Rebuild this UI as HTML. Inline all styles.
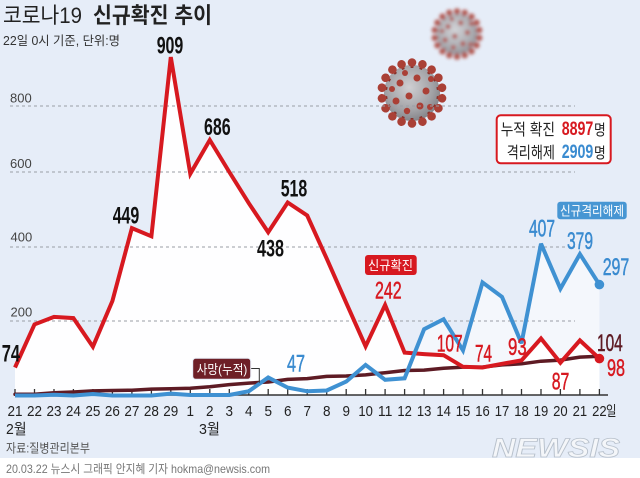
<!DOCTYPE html>
<html><head><meta charset="utf-8"><style>
html,body{margin:0;padding:0;background:#fff;}
svg{display:block;}
text{font-family:"Liberation Sans","Noto Sans CJK KR",sans-serif;}
</style></head><body>
<svg width="640" height="478" viewBox="0 0 640 478" xmlns="http://www.w3.org/2000/svg">
<defs>
<radialGradient id="vg" cx="45%" cy="40%" r="60%">
<stop offset="0" stop-color="#cfcfd2"/><stop offset="0.7" stop-color="#a2a2a6"/><stop offset="1" stop-color="#85858a"/>
</radialGradient>
<filter id="bl" x="-30%" y="-30%" width="160%" height="160%"><feGaussianBlur stdDeviation="2.2"/></filter>
<g id="sp"><rect x="-1.4" y="-31" width="2.8" height="6" fill="#86302a"/><circle cy="-30.5" r="4.3" fill="#aa4036"/></g>
<g id="virus">
<circle r="28" fill="url(#vg)"/>
<use href="#sp"/><use href="#sp" transform="rotate(20)"/><use href="#sp" transform="rotate(40)"/><use href="#sp" transform="rotate(60)"/><use href="#sp" transform="rotate(80)"/><use href="#sp" transform="rotate(100)"/><use href="#sp" transform="rotate(120)"/><use href="#sp" transform="rotate(140)"/><use href="#sp" transform="rotate(160)"/><use href="#sp" transform="rotate(180)"/><use href="#sp" transform="rotate(200)"/><use href="#sp" transform="rotate(220)"/><use href="#sp" transform="rotate(240)"/><use href="#sp" transform="rotate(260)"/><use href="#sp" transform="rotate(280)"/><use href="#sp" transform="rotate(300)"/><use href="#sp" transform="rotate(320)"/><use href="#sp" transform="rotate(340)"/>
<circle cx="-12" cy="-10" r="3.5" fill="#aa4036"/><circle cx="5" cy="-15" r="3.5" fill="#aa4036"/><circle cx="14" cy="-2" r="3.5" fill="#aa4036"/><circle cx="-3" cy="3" r="3.5" fill="#aa4036"/><circle cx="-16" cy="8" r="3.5" fill="#aa4036"/><circle cx="8" cy="13" r="3.5" fill="#aa4036"/><circle cx="-5" cy="18" r="3.2" fill="#aa4036"/><circle cx="18" cy="14" r="3" fill="#aa4036"/><circle cx="-20" cy="-4" r="3" fill="#aa4036"/><circle cx="19" cy="-14" r="3" fill="#aa4036"/>
<circle cx="-7" cy="-20" r="3" fill="#aa4036"/>
</g>
</defs>

<rect x="0" y="0" width="640" height="458" fill="#e6edf8"/>
<rect x="0" y="458" width="640" height="20" fill="#ffffff"/>

<g transform="translate(457,34) scale(0.74)" filter="url(#bl)" opacity="0.85"><use href="#virus"/></g>
<g transform="translate(412,93)"><use href="#virus"/></g>

<text x="3" y="23" font-size="22" fill="#222" textLength="79" lengthAdjust="spacingAndGlyphs">코로나19</text>
<text x="93" y="23" font-size="22" font-weight="bold" fill="#222" textLength="119" lengthAdjust="spacingAndGlyphs">신규확진 추이</text>
<text x="3" y="45" font-size="12.5" fill="#333" textLength="117" lengthAdjust="spacingAndGlyphs">22일 0시 기준, 단위:명</text>

<polygon fill="#ffffff" fill-opacity="0.55" points="15,395 15,395 34.5,395 54,394.3 73.4,395 92.9,393.5 112.4,395 131.9,395 151.4,395 170.8,393.1 190.3,394.6 209.8,394.6 229.3,394.6 248.8,390.9 268.2,377.5 287.7,387.6 307.2,391.3 326.7,390.5 346.2,381.6 365.6,364.9 385.1,379.8 404.6,378.3 424.1,329.2 443.6,319.2 463,350.4 482.5,282.4 502,296.9 521.5,343.3 541,243.7 560.4,288.7 579.9,254.1 599.4,284.6 599.4,395"/>
<polygon fill="#ffffff" fill-opacity="0.93" points="15,395 15,367.5 34.5,324.4 54,316.9 73.4,318.1 92.9,346.7 112.4,301 131.9,228.1 151.4,236.3 170.8,57.1 190.3,173.8 209.8,140 229.3,172 248.8,203.2 268.2,232.2 287.7,202.5 307.2,215.5 326.7,258.6 346.2,302.8 365.6,346.3 385.1,305 404.6,352.6 424.1,354.1 443.6,355.2 463,366.8 482.5,367.5 502,363.8 521.5,360.4 541,338.5 560.4,362.7 579.9,340.4 599.4,358.6 599.4,395"/>

<g stroke="#9a9ea6" stroke-width="1" stroke-dasharray="3,3">
<line x1="10" y1="106" x2="575" y2="106"/>
<line x1="10" y1="172" x2="575" y2="172"/>
<line x1="10" y1="247" x2="575" y2="247"/>
<line x1="10" y1="321" x2="575" y2="321"/>
</g>
<g font-size="13" fill="#444">
<text x="10" y="102.7" textLength="21.7" lengthAdjust="spacingAndGlyphs">800</text>
<text x="10" y="168" textLength="21.7" lengthAdjust="spacingAndGlyphs">600</text>
<text x="10.5" y="241.7" textLength="21.7" lengthAdjust="spacingAndGlyphs">400</text>
<text x="10.5" y="316.7" textLength="21.7" lengthAdjust="spacingAndGlyphs">200</text>
</g>

<line x1="14" y1="395" x2="608" y2="395" stroke="#333" stroke-width="1.4"/>
<g stroke="#333" stroke-width="1.3">
<line x1="15" y1="389" x2="15" y2="395"/><line x1="34.5" y1="389" x2="34.5" y2="395"/><line x1="54" y1="389" x2="54" y2="395"/><line x1="73.4" y1="389" x2="73.4" y2="395"/><line x1="92.9" y1="389" x2="92.9" y2="395"/><line x1="112.4" y1="389" x2="112.4" y2="395"/><line x1="131.9" y1="389" x2="131.9" y2="395"/><line x1="151.4" y1="389" x2="151.4" y2="395"/><line x1="170.8" y1="389" x2="170.8" y2="395"/><line x1="190.3" y1="389" x2="190.3" y2="395"/><line x1="209.8" y1="389" x2="209.8" y2="395"/><line x1="229.3" y1="389" x2="229.3" y2="395"/><line x1="248.8" y1="389" x2="248.8" y2="395"/><line x1="268.2" y1="389" x2="268.2" y2="395"/><line x1="287.7" y1="389" x2="287.7" y2="395"/><line x1="307.2" y1="389" x2="307.2" y2="395"/><line x1="326.7" y1="389" x2="326.7" y2="395"/><line x1="346.2" y1="389" x2="346.2" y2="395"/><line x1="365.6" y1="389" x2="365.6" y2="395"/><line x1="385.1" y1="389" x2="385.1" y2="395"/><line x1="404.6" y1="389" x2="404.6" y2="395"/><line x1="424.1" y1="389" x2="424.1" y2="395"/><line x1="443.6" y1="389" x2="443.6" y2="395"/><line x1="463" y1="389" x2="463" y2="395"/><line x1="482.5" y1="389" x2="482.5" y2="395"/><line x1="502" y1="389" x2="502" y2="395"/><line x1="521.5" y1="389" x2="521.5" y2="395"/><line x1="541" y1="389" x2="541" y2="395"/><line x1="560.4" y1="389" x2="560.4" y2="395"/><line x1="579.9" y1="389" x2="579.9" y2="395"/><line x1="599.4" y1="389" x2="599.4" y2="395"/>
</g>

<polyline fill="none" stroke="#5e1b24" stroke-width="3.5" stroke-linejoin="round" stroke-linecap="round" points="15,394.3 34.5,394.3 54,392.8 73.4,392 92.9,390.9 112.4,390.5 131.9,390.2 151.4,389.1 170.8,388.7 190.3,388.3 209.8,386.8 229.3,384.6 248.8,383.1 268.2,382 287.7,379.4 307.2,378.6 326.7,376.4 346.2,376 365.6,374.9 385.1,372.7 404.6,370.5 424.1,370.1 443.6,368.2 463,367.1 482.5,367.1 502,364.9 521.5,363.8 541,361.2 560.4,360.1 579.9,357.1 599.4,356.3"/>
<polyline fill="none" stroke="#d71920" stroke-width="4" stroke-linejoin="miter" stroke-miterlimit="3" points="15,367.5 34.5,324.4 54,316.9 73.4,318.1 92.9,346.7 112.4,301 131.9,228.1 151.4,236.3 170.8,57.1 190.3,173.8 209.8,140 229.3,172 248.8,203.2 268.2,232.2 287.7,202.5 307.2,215.5 326.7,258.6 346.2,302.8 365.6,346.3 385.1,305 404.6,352.6 424.1,354.1 443.6,355.2 463,366.8 482.5,367.5 502,363.8 521.5,360.4 541,338.5 560.4,362.7 579.9,340.4 599.4,358.6"/>
<circle cx="599.4" cy="358.6" r="4.8" fill="#d71920"/>
<polyline fill="none" stroke="#3f91d2" stroke-width="4" stroke-linejoin="miter" stroke-miterlimit="3" points="15,395.5 34.5,395.5 54,394.8 73.4,395.5 92.9,394 112.4,395.5 131.9,395.5 151.4,395.5 170.8,393.6 190.3,395 209.8,395 229.3,395 248.8,391.2 268.2,377.5 287.7,387.6 307.2,391.3 326.7,390.5 346.2,381.6 365.6,364.9 385.1,379.8 404.6,378.3 424.1,329.2 443.6,319.2 463,350.4 482.5,282.4 502,296.9 521.5,343.3 541,243.7 560.4,288.7 579.9,254.1 599.4,284.6"/>
<circle cx="599.4" cy="284.6" r="4.8" fill="#3f91d2"/>

<g font-size="24" font-weight="bold" fill="#111">
<text x="1.7" y="361.5" textLength="18.3" lengthAdjust="spacingAndGlyphs">74</text>
<text x="112.7" y="223.3" textLength="26.6" lengthAdjust="spacingAndGlyphs">449</text>
<text x="156.7" y="53.3" textLength="26.6" lengthAdjust="spacingAndGlyphs">909</text>
<text x="204" y="135" textLength="26.7" lengthAdjust="spacingAndGlyphs">686</text>
<text x="257" y="256.7" textLength="27" lengthAdjust="spacingAndGlyphs">438</text>
<text x="280.7" y="196.7" textLength="26.6" lengthAdjust="spacingAndGlyphs">518</text>
</g>
<g font-size="24" fill="#d71920" stroke="#d71920" stroke-width="0.5">
<text x="375" y="298.3" textLength="26.7" lengthAdjust="spacingAndGlyphs">242</text>
<text x="436.7" y="351.7" textLength="26" lengthAdjust="spacingAndGlyphs">107</text>
<text x="475" y="361.7" textLength="17" lengthAdjust="spacingAndGlyphs">74</text>
<text x="508" y="355" textLength="18.7" lengthAdjust="spacingAndGlyphs">93</text>
<text x="551.7" y="389.3" textLength="17.6" lengthAdjust="spacingAndGlyphs">87</text>
<text x="607" y="376" textLength="18" lengthAdjust="spacingAndGlyphs">98</text>
</g>
<text x="597" y="351" font-size="24" fill="#5e1b24" stroke="#5e1b24" stroke-width="0.5" textLength="25.7" lengthAdjust="spacingAndGlyphs">104</text>
<g font-size="24" fill="#3a8bd0" stroke="#3a8bd0" stroke-width="0.5">
<text x="287" y="371.7" textLength="18" lengthAdjust="spacingAndGlyphs">47</text>
<text x="529" y="236.7" textLength="26" lengthAdjust="spacingAndGlyphs">407</text>
<text x="567" y="249" textLength="26" lengthAdjust="spacingAndGlyphs">379</text>
<text x="602.7" y="275" textLength="26.6" lengthAdjust="spacingAndGlyphs">297</text>
</g>

<rect x="557.3" y="201.7" width="69.4" height="17.6" rx="3" fill="#4796d3"/>
<text x="560" y="215.5" font-size="13" fill="#fff" textLength="64" lengthAdjust="spacingAndGlyphs">신규격리해제</text>
<rect x="365" y="255" width="51.7" height="20" rx="3" fill="#d71920"/>
<text x="368" y="270" font-size="13" fill="#fff" textLength="45" lengthAdjust="spacingAndGlyphs">신규확진</text>
<polyline fill="none" stroke="#333" stroke-width="1" points="250.7,368.5 259.3,368.5 259.3,382.7"/>
<rect x="192.7" y="358.3" width="58" height="21" rx="3" fill="#6e1f27" stroke="#e6edf8" stroke-width="1"/>
<text x="196.7" y="374" font-size="13" fill="#fff" textLength="50.6" lengthAdjust="spacingAndGlyphs">사망(누적)</text>

<rect x="496.7" y="115.3" width="114" height="48" rx="4" fill="#ffffff" stroke="#d71920" stroke-width="2"/>
<text x="500.7" y="135" font-size="16" fill="#222" textLength="54.3" lengthAdjust="spacingAndGlyphs">누적 확진</text>
<text x="561.7" y="135" font-size="19" font-weight="bold" fill="#d71920" textLength="31.6" lengthAdjust="spacingAndGlyphs">8897</text>
<text x="594" y="135" font-size="15" fill="#222" textLength="11.7" lengthAdjust="spacingAndGlyphs">명</text>
<text x="506.7" y="158" font-size="16" fill="#222" textLength="48.3" lengthAdjust="spacingAndGlyphs">격리해제</text>
<text x="561.7" y="158" font-size="19" font-weight="bold" fill="#3a8bd0" textLength="31.6" lengthAdjust="spacingAndGlyphs">2909</text>
<text x="594" y="158" font-size="15" fill="#222" textLength="11.7" lengthAdjust="spacingAndGlyphs">명</text>

<g font-size="15" fill="#222" text-anchor="middle">
<text x="15" y="416" textLength="15" lengthAdjust="spacingAndGlyphs">21</text>
<text x="34.5" y="416" textLength="15" lengthAdjust="spacingAndGlyphs">22</text>
<text x="54" y="416" textLength="15" lengthAdjust="spacingAndGlyphs">23</text>
<text x="73.4" y="416" textLength="15" lengthAdjust="spacingAndGlyphs">24</text>
<text x="92.9" y="416" textLength="15" lengthAdjust="spacingAndGlyphs">25</text>
<text x="112.4" y="416" textLength="15" lengthAdjust="spacingAndGlyphs">26</text>
<text x="131.9" y="416" textLength="15" lengthAdjust="spacingAndGlyphs">27</text>
<text x="151.4" y="416" textLength="15" lengthAdjust="spacingAndGlyphs">28</text>
<text x="170.8" y="416" textLength="15" lengthAdjust="spacingAndGlyphs">29</text>
<text x="190.3" y="416" textLength="7.5" lengthAdjust="spacingAndGlyphs">1</text>
<text x="209.8" y="416" textLength="7.5" lengthAdjust="spacingAndGlyphs">2</text>
<text x="229.3" y="416" textLength="7.5" lengthAdjust="spacingAndGlyphs">3</text>
<text x="248.8" y="416" textLength="7.5" lengthAdjust="spacingAndGlyphs">4</text>
<text x="268.2" y="416" textLength="7.5" lengthAdjust="spacingAndGlyphs">5</text>
<text x="287.7" y="416" textLength="7.5" lengthAdjust="spacingAndGlyphs">6</text>
<text x="307.2" y="416" textLength="7.5" lengthAdjust="spacingAndGlyphs">7</text>
<text x="326.7" y="416" textLength="7.5" lengthAdjust="spacingAndGlyphs">8</text>
<text x="346.2" y="416" textLength="7.5" lengthAdjust="spacingAndGlyphs">9</text>
<text x="365.6" y="416" textLength="14.5" lengthAdjust="spacingAndGlyphs">10</text>
<text x="385.1" y="416" textLength="14.5" lengthAdjust="spacingAndGlyphs">11</text>
<text x="404.6" y="416" textLength="14.5" lengthAdjust="spacingAndGlyphs">12</text>
<text x="424.1" y="416" textLength="14.5" lengthAdjust="spacingAndGlyphs">13</text>
<text x="443.6" y="416" textLength="14.5" lengthAdjust="spacingAndGlyphs">14</text>
<text x="463" y="416" textLength="14.5" lengthAdjust="spacingAndGlyphs">15</text>
<text x="482.5" y="416" textLength="14.5" lengthAdjust="spacingAndGlyphs">16</text>
<text x="502" y="416" textLength="14.5" lengthAdjust="spacingAndGlyphs">17</text>
<text x="521.5" y="416" textLength="14.5" lengthAdjust="spacingAndGlyphs">18</text>
<text x="541" y="416" textLength="14.5" lengthAdjust="spacingAndGlyphs">19</text>
<text x="560.4" y="416" textLength="14.5" lengthAdjust="spacingAndGlyphs">20</text>
<text x="579.9" y="416" textLength="14.5" lengthAdjust="spacingAndGlyphs">21</text>
<text x="599.4" y="416" textLength="14.5" lengthAdjust="spacingAndGlyphs">22</text>
</g>
<text x="606" y="416" font-size="14" fill="#222" textLength="10.5" lengthAdjust="spacingAndGlyphs">일</text>
<text x="6" y="434" font-size="15" fill="#222" textLength="20.7" lengthAdjust="spacingAndGlyphs">2월</text>
<text x="199" y="434" font-size="15" fill="#222" textLength="21" lengthAdjust="spacingAndGlyphs">3월</text>

<text x="6" y="452.5" font-size="12.5" fill="#555" textLength="84" lengthAdjust="spacingAndGlyphs">자료:질병관리본부</text>

<text x="492" y="457" font-size="27" font-weight="bold" font-style="italic" fill="#f4f6f9" stroke="#b8c1cc" stroke-width="0.8" textLength="128" lengthAdjust="spacingAndGlyphs">NEWSIS</text>

<text x="6" y="473" font-size="12" fill="#777" textLength="264" lengthAdjust="spacingAndGlyphs">20.03.22 뉴스시 그래픽 안지혜 기자 hokma@newsis.com</text>
</svg>
</body></html>
